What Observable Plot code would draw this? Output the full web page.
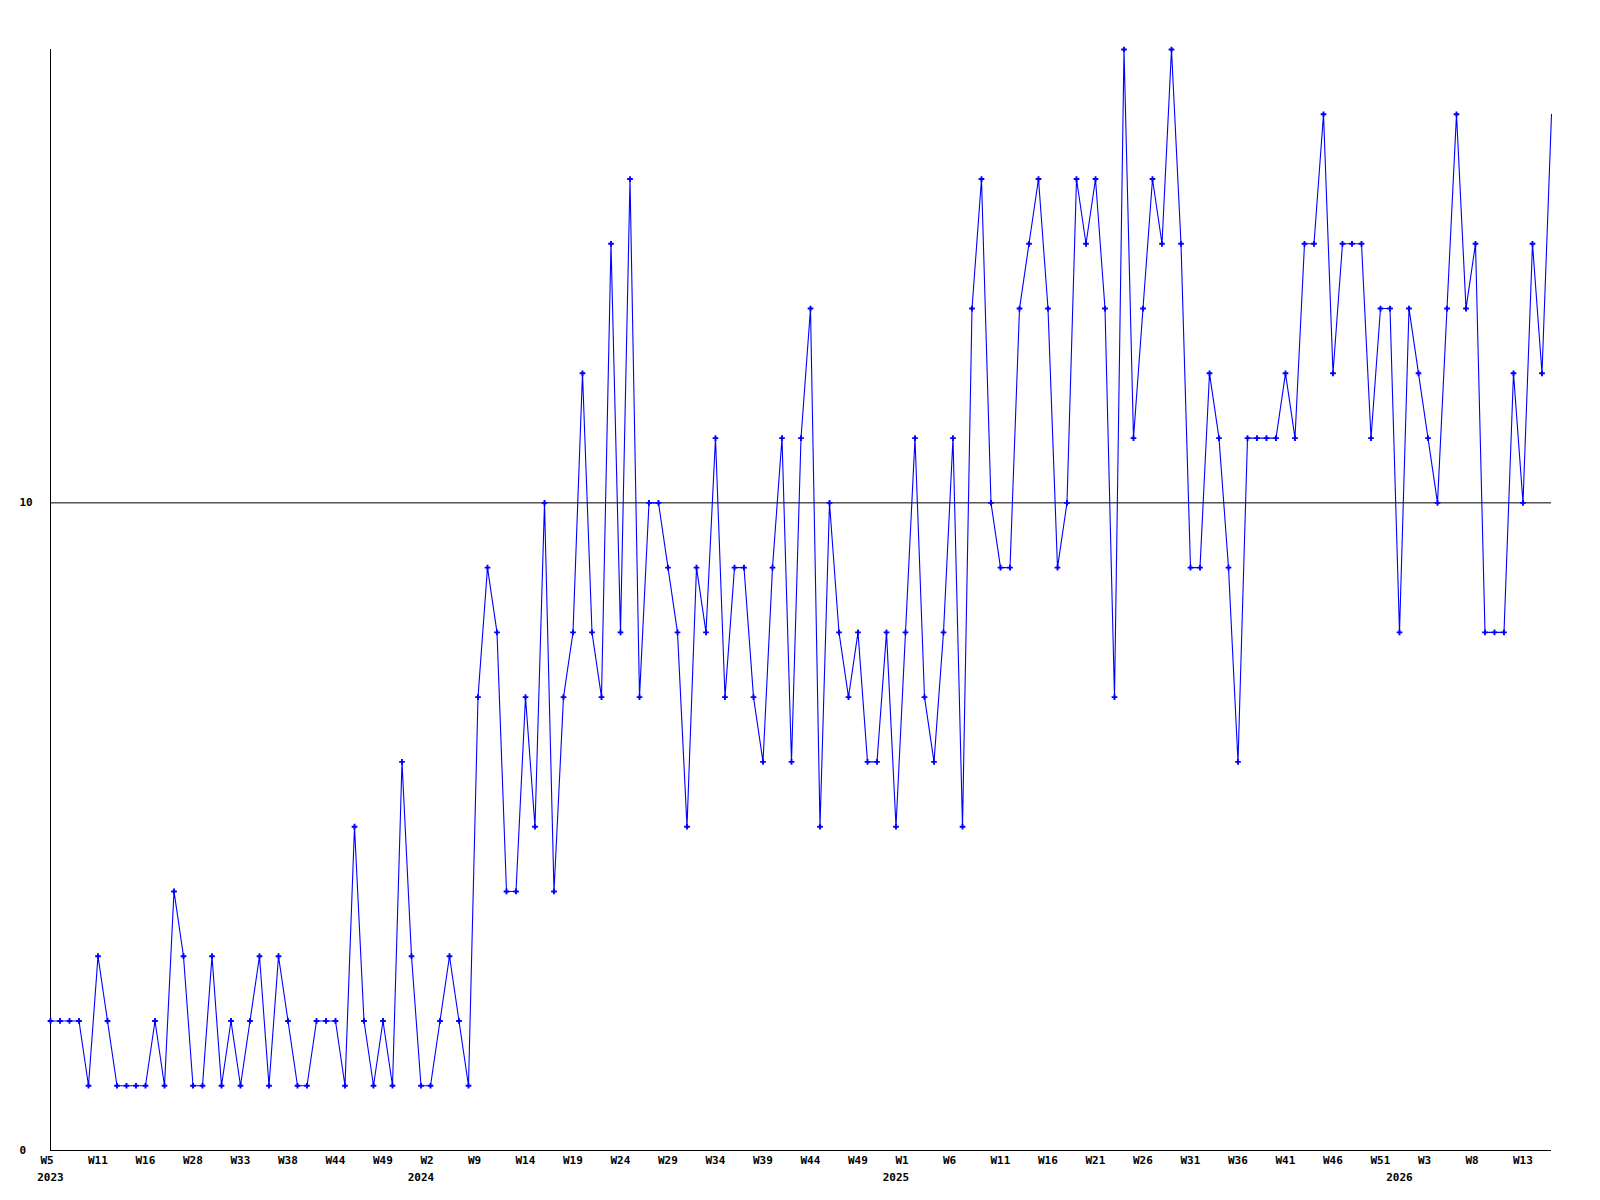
<!DOCTYPE html>
<html>
<head>
<meta charset="utf-8">
<script src="https://cdn.jsdelivr.net/npm/d3@7"></script>
<script src="https://cdn.jsdelivr.net/npm/@observablehq/plot@0.6"></script>
<style>
  html, body { margin: 0; padding: 0; background: #ffffff; }
  #chart { width: 1600px; height: 1200px; }
</style>
</head>
<body>
<div id="chart"></div>
<script>
// Weekly values, one per data point (evenly spaced by index)
const values = [
  2,2,2,2,1, 3,2,1,1,1, 1,2,1,4,3, 1,1,3,1,2, 1,2,3,1,3, 2,1,1,2,2,
  2,1,5,2,1, 2,1,6,3,1, 1,2,3,2,1, 7,
  9,8,4,4,7, 5,10,4,7,8, 12,8,7,14,8, 15,7,10,10,9, 8,5,9,8,11, 7,9,9,7,6,
  9,11,6,11,13, 5,10,8,7,8, 6,6,8,5,8,
  11,7,6,8,11, 5,13,15,10,9, 9,13,14,15,13, 9,10,15,14,15, 13,7,17,11,13,
  15,14,17,14,9, 9,12,11,9,6, 11,11,11,11,12, 11,14,14,16,12,
  14,14,14,11,13, 13,8,13,12,11, 10,13,16,13,14, 8,8,8,12,10, 14,12,16
];

// Week labels, one every 5 data points
const tickLabels = [
  "W5","W11","W16","W28","W33","W38","W44","W49",
  "W2","W9","W14","W19","W24","W29","W34","W39","W44","W49",
  "W1","W6","W11","W16","W21","W26","W31","W36","W41","W46","W51",
  "W3","W8","W13"
];
const tickEvery = 5;

// Year labels and the data-point index where each year begins
const years = ["2023","2024","2025","2026"];
const yearStart = [0, 39, 89, 142];

const yTicks = [0, 10];
const yMax = 17;

const data = values.map((v, i) => ({i, v}));
const tickIdx = tickLabels.map((_, k) => k * tickEvery);
const yearData = years.map((y, k) => ({year: y, i: yearStart[k]}));

const font = "'DejaVu Sans Mono', monospace";

const chart = Plot.plot({
  width: 1600,
  height: 1200,
  marginLeft: 50,
  marginRight: 49,
  marginTop: 49,
  marginBottom: 50,
  style: {fontFamily: font, fontSize: "11px", fontWeight: "bold", color: "#000", background: "#fff"},
  x: {domain: [0, values.length - 1], axis: null},
  y: {domain: [0, yMax], axis: null},
  marks: [
    Plot.ruleY([10], {stroke: "#000", strokeWidth: 1}),
    Plot.ruleY([0], {stroke: "#000", strokeWidth: 1}),
    Plot.ruleX([0], {y1: 0, y2: yMax, stroke: "#000", strokeWidth: 1}),
    Plot.line(data, {x: "i", y: "v", stroke: "#0000ff", strokeWidth: 1.1}),
    Plot.dot(data.filter(d => d.i < values.length - 1), {x: "i", y: "v", symbol: "cross", r: 2.4, fill: "#0000ff", stroke: "none"}),
    Plot.axisX({
      ticks: tickIdx,
      tickFormat: d => tickLabels[Math.round(d / tickEvery)],
      tickSize: 0,
      tickPadding: 6,
      textAnchor: "start",
      dx: -10,
      label: null,
      fontFamily: font,
      fontSize: 11,
      fontWeight: "bold",
      fill: "#000"
    }),
    Plot.text(yearData, {
      x: "i",
      y: () => 0,
      text: "year",
      dy: 27,
      textAnchor: "middle",
      fontFamily: font,
      fontSize: 11,
      fontWeight: "bold",
      fill: "#000"
    }),
    Plot.axisY({
      ticks: yTicks,
      tickSize: 0,
      tickPadding: 0,
      textAnchor: "start",
      dx: -31,
      label: null,
      fontFamily: font,
      fontSize: 11,
      fontWeight: "bold",
      fill: "#000"
    })
  ]
});

document.getElementById("chart").appendChild(chart);
</script>
</body>
</html>
